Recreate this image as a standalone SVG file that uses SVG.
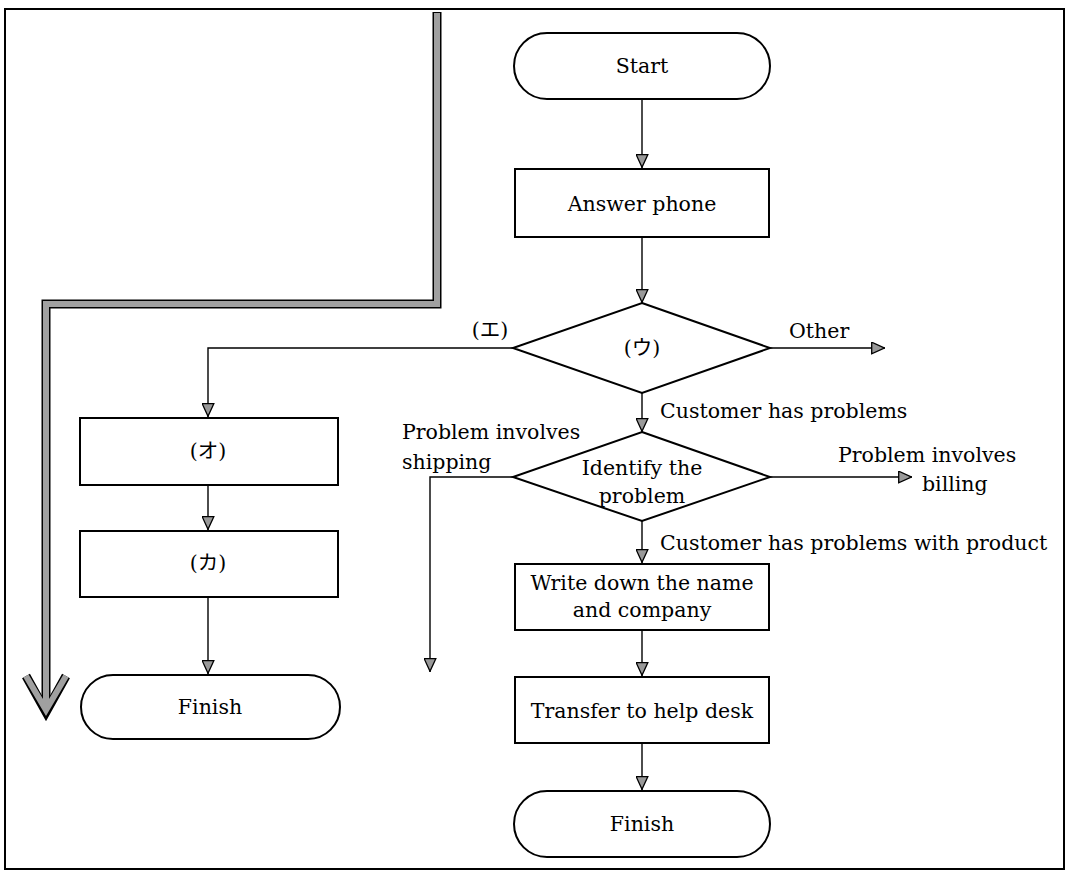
<svg xmlns="http://www.w3.org/2000/svg" width="1068" height="873" viewBox="0 0 1068 873">
<style>
.box{fill:#fff;stroke:#000;stroke-width:2}
.ln{fill:none;stroke:#000;stroke-width:1.4}
.t{font-family:"DejaVu Serif","Noto Sans CJK JP",serif;font-size:20.5px;fill:#000}
.c{text-anchor:middle}
.gO{fill:none;stroke:#000;stroke-width:9;stroke-linejoin:miter;stroke-linecap:butt}
.gI{fill:none;stroke:#a0a0a0;stroke-width:6;stroke-linejoin:miter;stroke-linecap:butt}
</style>
<defs>
<marker id="ah" markerUnits="userSpaceOnUse" markerWidth="14" markerHeight="13" refX="14" refY="6.5" orient="auto" viewBox="0 0 14 13">
<path d="M0.7,0.7 L13.3,6.5 L0.7,12.3 Z" fill="#999" stroke="#000" stroke-width="1.3"/>
</marker>
</defs>
<rect x="5" y="9" width="1059" height="860" fill="#fff" stroke="#000" stroke-width="2"/>
<g id="bigarrow">
<path class="gO" d="M437,12 V304 H46 V712"/>
<path class="gO" d="M26,676 L46,712 L66,676"/>
<path class="gI" d="M437,13 V304 H46 V710"/>
<path class="gI" d="M26,676 L46,710 L66,676"/>
</g>
<g id="connectors">
<path class="ln" d="M642,100 V168" marker-end="url(#ah)"/>
<path class="ln" d="M642,237 V303" marker-end="url(#ah)"/>
<path class="ln" d="M513,348 H208 V417" marker-end="url(#ah)"/>
<path class="ln" d="M770,348 H885" marker-end="url(#ah)"/>
<path class="ln" d="M642,393 V432" marker-end="url(#ah)"/>
<path class="ln" d="M513,477 H430 V672" marker-end="url(#ah)"/>
<path class="ln" d="M770,477 H912" marker-end="url(#ah)"/>
<path class="ln" d="M642,521 V563" marker-end="url(#ah)"/>
<path class="ln" d="M642,630 V676" marker-end="url(#ah)"/>
<path class="ln" d="M642,743 V790" marker-end="url(#ah)"/>
<path class="ln" d="M208,485 V530" marker-end="url(#ah)"/>
<path class="ln" d="M208,597 V674" marker-end="url(#ah)"/>
<text class="t c" x="490" y="337">(エ)</text>
<text class="t" x="789" y="338">Other</text>
<text class="t" x="660" y="418">Customer has problems</text>
<text class="t" x="402" y="439">Problem involves</text>
<text class="t" x="402" y="469">shipping</text>
<text class="t" x="838" y="462">Problem involves</text>
<text class="t" x="922" y="491">billing</text>
<text class="t" x="660" y="550">Customer has problems with product</text>
</g>
<g id="start">
<rect class="box" x="514" y="33" width="256" height="66" rx="33" ry="33"/>
<text class="t c" x="642" y="73">Start</text>
</g>
<g id="answer">
<rect class="box" x="515" y="169" width="254" height="68"/>
<text class="t c" x="642" y="211">Answer phone</text>
</g>
<g id="decision_u">
<polygon class="box" points="642,303 770,348 642,393 513,348"/>
<text class="t c" x="642" y="355">(ウ)</text>
</g>
<g id="identify">
<polygon class="box" points="642,432 770,477 642,521 513,477"/>
<text class="t c" x="642" y="475">Identify the</text>
<text class="t c" x="642" y="503">problem</text>
</g>
<g id="writedown">
<rect class="box" x="515" y="564" width="254" height="66"/>
<text class="t c" x="642" y="590">Write down the name</text>
<text class="t c" x="642" y="617">and company</text>
</g>
<g id="transfer">
<rect class="box" x="515" y="677" width="254" height="66"/>
<text class="t c" x="642" y="718">Transfer to help desk</text>
</g>
<g id="finish_right">
<rect class="box" x="514" y="791" width="256" height="66" rx="33" ry="33"/>
<text class="t c" x="642" y="831">Finish</text>
</g>
<g id="box_o">
<rect class="box" x="80" y="418" width="258" height="67"/>
<text class="t c" x="208" y="458">(オ)</text>
</g>
<g id="box_ka">
<rect class="box" x="80" y="531" width="258" height="66"/>
<text class="t c" x="208" y="570">(カ)</text>
</g>
<g id="finish_left">
<rect class="box" x="81" y="675" width="259" height="64" rx="32" ry="32"/>
<text class="t c" x="210" y="714">Finish</text>
</g>
</svg>
